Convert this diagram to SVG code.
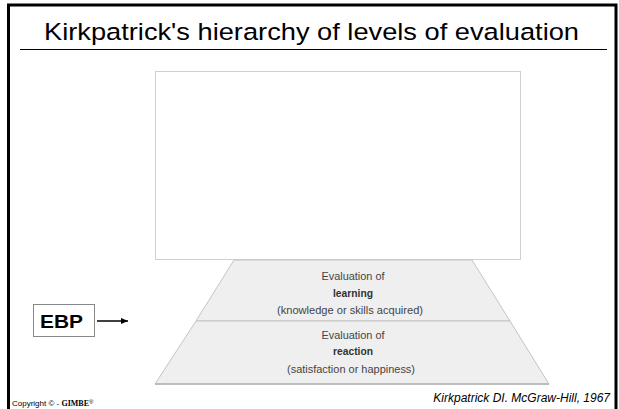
<svg xmlns="http://www.w3.org/2000/svg" width="619" height="409" viewBox="0 0 619 409">
<style>
.tier{fill:#efefef;stroke:#c4c4c4;stroke-width:1}
.t{font-family:"Liberation Sans",Arial,sans-serif;font-size:10.5px;fill:#444;text-anchor:middle}
.b{font-weight:bold;fill:#333}
</style>
<defs>
<marker id="ah" markerWidth="8" markerHeight="8" refX="7" refY="4" orient="auto" markerUnits="userSpaceOnUse">
<path d="M0,1 L7,4 L0,7 Z" fill="#000"/>
</marker>
</defs>
<rect width="619" height="409" fill="#fff"/>
<path d="M8.5,409 V5 H616 V409" fill="none" stroke="#000" stroke-width="3"/>
<text x="44" y="40" font-family="Liberation Sans,Arial,sans-serif" font-size="24.5" fill="#000" textLength="535" lengthAdjust="spacingAndGlyphs">Kirkpatrick's hierarchy of levels of evaluation</text>
<line x1="20" y1="49.5" x2="607" y2="49.5" stroke="#000" stroke-width="1"/>
<g id="top-box">
<rect x="155.5" y="71.5" width="365" height="188" fill="#fff" stroke="#d0d0d0" stroke-width="1"/>
</g>
<g id="learning">
<polygon class="tier" points="234,260 472,260 510,321 196,321"/>
<text class="t" x="353" y="280" textLength="63" lengthAdjust="spacingAndGlyphs">Evaluation of</text>
<text class="t b" x="353" y="297" textLength="40" lengthAdjust="spacingAndGlyphs">learning</text>
<text class="t" x="350" y="314" textLength="146" lengthAdjust="spacingAndGlyphs">(knowledge or skills acquired)</text>
</g>
<g id="reaction">
<polygon class="tier" points="196,321 510,321 549,384 155,384"/>
<line x1="155" y1="384" x2="549" y2="384" stroke="#bdbdbd" stroke-width="2"/>
<text class="t" x="353" y="339" textLength="63" lengthAdjust="spacingAndGlyphs">Evaluation of</text>
<text class="t b" x="353" y="355" textLength="40" lengthAdjust="spacingAndGlyphs">reaction</text>
<text class="t" x="351" y="373" textLength="128" lengthAdjust="spacingAndGlyphs">(satisfaction or happiness)</text>
</g>
<g id="ebp">
<rect x="33.5" y="304.5" width="61" height="32" fill="#fff" stroke="#888" stroke-width="1"/>
<text x="40" y="328" font-family="Liberation Sans,Arial,sans-serif" font-size="18.5" font-weight="bold" fill="#000" textLength="43" lengthAdjust="spacingAndGlyphs">EBP</text>
</g>
<g id="connectors">
<line x1="97" y1="321" x2="128" y2="321" stroke="#000" stroke-width="1.5" marker-end="url(#ah)"/>
</g>
<text x="12" y="406" font-family="Liberation Sans,Arial,sans-serif" font-size="8" fill="#000">Copyright © - <tspan font-family="Liberation Serif,serif" font-weight="bold">GIMBE</tspan><tspan font-size="6" dy="-2">®</tspan></text>
<text x="610" y="402" font-family="Liberation Sans,Arial,sans-serif" font-size="12" font-style="italic" text-anchor="end" fill="#000">Kirkpatrick DI. McGraw-Hill, 1967</text>
</svg>
